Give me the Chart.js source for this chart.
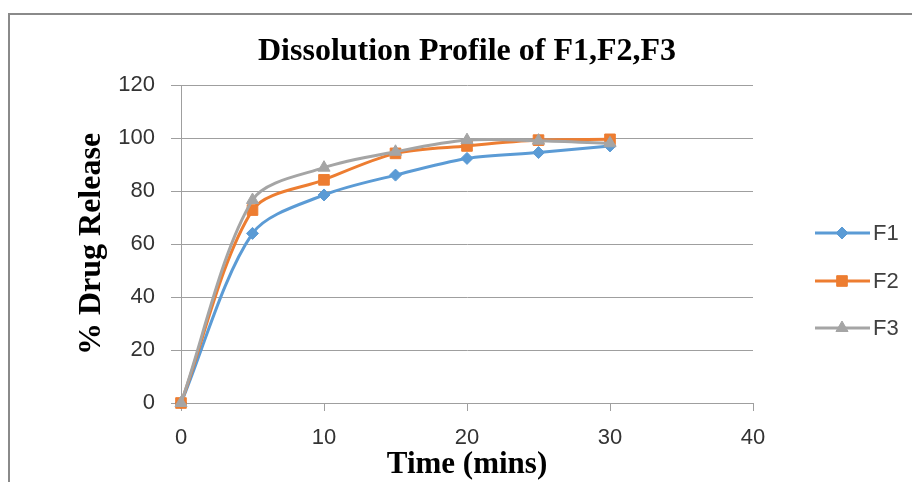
<!DOCTYPE html>
<html>
<head>
<meta charset="utf-8">
<script src="https://cdn.jsdelivr.net/npm/chart.js@4/dist/chart.umd.min.js"></script>
<style>
  html, body { margin: 0; padding: 0; background: #fff; }
  #wrap { position: relative; width: 912px; height: 482px; }
</style>
</head>
<body>
<div id="wrap"><canvas id="c" width="912" height="482"></canvas></div>
<script>
const chartTitle = 'Dissolution Profile of F1,F2,F3';
const xTitle = 'Time (mins)';
const yTitle = '% Drug Release';
const times = [0, 5, 10, 15, 20, 25, 30];
const seriesNames = ['F1', 'F2', 'F3'];
const f1 = [0, 64.0, 78.5, 86.0, 92.3, 94.5, 97.0];
const f2 = [0, 72.8, 84.2, 94.2, 97.0, 99.2, 99.5];
const f3 = [0, 76.6, 88.8, 94.8, 99.2, 99.0, 98.0];
const seriesColors = ['#5B9BD5', '#ED7D31', '#A5A5A5'];
const seriesPoints = ['rectRot', 'rect', 'triangle'];
const pointRadii = [6, 7.5, 7];

const gridColor = '#9f9f9f';
const tickColor = '#333333';

function toXY(vals) { return times.map((t, i) => ({ x: t, y: vals[i] })); }
const allSeries = [f1, f2, f3];

const frameTitleLegend = {
  id: 'frameTitleLegend',
  beforeDraw(chart) {
    const ctx = chart.ctx;
    ctx.save();
    ctx.fillStyle = '#ffffff';
    ctx.fillRect(0, 0, chart.width, chart.height);
    ctx.strokeStyle = '#8a8a8a';
    ctx.lineWidth = 2;
    ctx.beginPath();
    ctx.moveTo(9, chart.height + 5);
    ctx.lineTo(9, 14);
    ctx.lineTo(chart.width + 5, 14);
    ctx.stroke();
    ctx.restore();
  },
  afterDraw(chart) {
    const ctx = chart.ctx;
    const ca = chart.chartArea;
    ctx.save();
    ctx.fillStyle = '#000';
    ctx.font = 'bold 32px "Liberation Serif", "Times New Roman", serif';
    ctx.textAlign = 'center';
    ctx.textBaseline = 'middle';
    ctx.fillText(chartTitle, (ca.left + ca.right) / 2, 52);
    // legend
    const rows = [233, 281, 328];
    seriesNames.forEach((name, i) => {
      const y = rows[i];
      ctx.strokeStyle = seriesColors[i];
      ctx.lineWidth = 3;
      ctx.beginPath();
      ctx.moveTo(815, y);
      ctx.lineTo(870, y);
      ctx.stroke();
      ctx.fillStyle = seriesColors[i];
      ctx.strokeStyle = seriesColors[i];
      ctx.lineWidth = 1;
      Chart.helpers.drawPoint(ctx, { pointStyle: seriesPoints[i], radius: pointRadii[i], rotation: 0, borderWidth: 1 }, 842, y);
      ctx.fillStyle = '#404040';
      ctx.font = '22px "Liberation Sans", Arial, sans-serif';
      ctx.textAlign = 'left';
      ctx.textBaseline = 'middle';
      ctx.fillText(name, 873, y + 1);
    });
    ctx.restore();
  }
};

new Chart(document.getElementById('c'), {
  type: 'line',
  data: {
    datasets: seriesNames.map((name, i) => ({
      label: name,
      data: toXY(allSeries[i]),
      borderColor: seriesColors[i],
      backgroundColor: seriesColors[i],
      borderWidth: 3,
      pointStyle: seriesPoints[i],
      pointRadius: pointRadii[i],
      pointBorderWidth: 1,
      tension: 0.3,
      fill: false,
      clip: false,
      order: 3 - i
    }))
  },
  options: {
    responsive: false,
    animation: false,
    events: [],
    layout: { padding: { top: 85, right: 159, left: 0, bottom: 0 } },
    plugins: {
      legend: { display: false },
      title: { display: false },
      tooltip: { enabled: false }
    },
    scales: {
      x: {
        type: 'linear',
        min: 0, max: 40,
        afterFit(scale) { scale.height = 79; },
        grid: { drawOnChartArea: false, drawTicks: true, tickLength: 8, color: gridColor, lineWidth: 1 },
        border: { display: true, color: gridColor, width: 1 },
        ticks: { stepSize: 10, padding: 14, color: tickColor, font: { family: '"Liberation Sans", Arial, sans-serif', size: 22 } },
        title: { display: true, text: xTitle, color: '#000', padding: { top: 0, bottom: -2 },
                 font: { family: '"Liberation Serif", "Times New Roman", serif', size: 31, weight: 'bold' } }
      },
      y: {
        min: 0, max: 120,
        afterFit(scale) { scale.width = 181; },
        grid: { color: gridColor, lineWidth: 1, tickLength: 10 },
        border: { display: true, color: gridColor, width: 1 },
        ticks: { stepSize: 20, padding: 16, color: tickColor, font: { family: '"Liberation Sans", Arial, sans-serif', size: 22 } },
        title: { display: true, text: yTitle, color: '#000', padding: { top: 73, bottom: 0 },
                 font: { family: '"Liberation Serif", "Times New Roman", serif', size: 32, weight: 'bold' } }
      }
    }
  },
  plugins: [frameTitleLegend]
});
</script>
</body>
</html>
